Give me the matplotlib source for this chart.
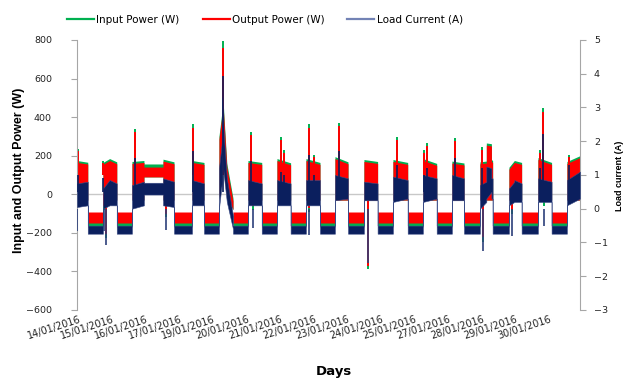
import numpy as np
import matplotlib
matplotlib.use("Agg")
import matplotlib.pyplot as plt
from matplotlib.lines import Line2D

# ---------------- data (time in hours from start of record) ----------------
tick_labels = ["14/01/2016", "15/01/2016", "16/01/2016", "17/01/2016", "19/01/2016",
               "20/01/2016", "21/01/2016", "22/01/2016", "23/01/2016", "24/01/2016",
               "25/01/2016", "27/01/2016", "28/01/2016", "29/01/2016", "30/01/2016"]

# daytime operating blocks: on/off time and band envelopes (start -> end)
blk_on    = [0.0, 21.5, 27.0, 45.5, 55.4, 71.2, 95.2, 117.5, 120.0, 121.5, 124.0, 141.5, 165.5,
             189.5, 213.5, 237.5, 261.5, 286.3, 310.3, 333.5, 338.8, 343.0, 357.5, 362.0, 381.5, 405.5]
blk_off   = [8.9, 27.0, 32.9, 55.4, 71.2, 80.3, 105.1, 120.0, 121.5, 124.0, 129.1, 152.9, 176.8,
             201.1, 224.3, 248.8, 273.7, 297.7, 320.3, 338.8, 343.0, 344.0, 362.0, 368.0, 392.8, 416.3]
in_top_s  = [175, 165, 185, 170, 157, 182, 175, 300, 600, 420, 160, 175, 185,
             185, 195, 180, 180, 185, 172, 168, 266, 180, 140, 175, 190, 170]
in_top_e  = [166, 185, 168, 175, 157, 168, 165, 430, 420, 160, -20, 165, 163,
             165, 168, 170, 165, 160, 162, 172, 262, 175, 175, 165, 165, 200]
out_top_s = [165, 155, 175, 160, 141, 172, 165, 285, 570, 400, 140, 165, 175,
             175, 185, 170, 170, 175, 162, 158, 255, 170, 130, 165, 180, 160]
out_top_e = [157, 175, 158, 165, 141, 158, 155, 410, 400, 140, -35, 155, 153,
             155, 158, 160, 155, 150, 152, 162, 250, 165, 165, 155, 155, 190]
pow_lo_s  = [-30, -30, -30, -30, 90, -30, -30, -30, 180, 110, -10, -30, -30,
             -30, -30, -30, -30, -30, -30, -30, -30, -30, -30, -30, -30, -30]
pow_lo_e  = [-30, -30, -30, -30, 90, -30, -30, 150, 110, -10, -80, -30, -30,
             -30, -30, -30, -30, -30, -30, -30, -30, -30, -30, -30, -30, -30]
cur_lo_s  = [0.05, 0.00, 0.10, 0.00, 0.42, 0.10, 0.10, 0.00, 1.60, 1.00, 0.20, 0.10, 0.10,
             0.10, 0.25, 0.25, 0.20, 0.20, 0.25, 0.00, 0.30, 0.30, 0.10, 0.20, 0.20, 0.10]
cur_lo_e  = [0.10, 0.10, 0.10, 0.10, 0.42, 0.05, 0.10, 0.80, 1.00, 0.20, -0.60, 0.10, 0.10,
             0.10, 0.30, 0.25, 0.30, 0.30, 0.25, 0.20, 0.50, 0.30, 0.20, 0.20, 0.20, 0.30]
cur_hi_s  = [0.75, 0.60, 0.85, 0.70, 0.77, 0.90, 0.85, 1.20, 3.30, 2.20, 0.90, 0.85, 0.85,
             0.85, 1.00, 0.80, 0.95, 1.00, 1.00, 0.70, 1.25, 0.90, 0.60, 0.85, 0.90, 0.85]
cur_hi_e  = [0.80, 0.85, 0.75, 0.80, 0.77, 0.80, 0.75, 2.00, 2.20, 0.90, -0.20, 0.75, 0.75,
             0.85, 0.90, 0.75, 0.85, 0.90, 0.90, 0.80, 1.20, 0.90, 0.80, 0.75, 0.80, 1.10]

# night-time bands (low, high)
night_in  = (-170, -110)
night_out = (-149, -92)
night_cur = (-0.74, -0.50)

# short upward spikes: time, input W, output W, current A
up_t   = [0.8, 21.7, 48.0, 96.0, 120.6, 144.0, 168.6, 171.7, 192.0, 196.0, 216.8, 264.8,
          286.8, 289.7, 312.8, 334.9, 383.2, 385.4, 407.2]
up_in  = [235, 172, 340, 364, 797, 325, 298, 228, 364, 205, 372, 297,
          230, 265, 294, 245, 230, 447, 203]
up_out = [222, 160, 322, 345, 758, 305, 280, 212, 345, 195, 352, 280,
          215, 248, 276, 230, 215, 425, 195]
up_cur = [1.0, 0.9, 1.5, 1.7, 3.94, 1.4, 1.1, 1.0, 1.6, 1.0, 1.7, 1.3,
          1.0, 1.2, 1.5, 1.2, 1.2, 2.2, 1.3]

# short downward spikes: time, input W, output W, current A
dn_t   = [0.4, 22.0, 24.0, 73.5, 146.0, 192.3, 240.6, 336.0, 360.0, 386.5]
dn_in  = [-140, -80, -227, -120, -80, -90, -390, -245, -100, -60]
dn_out = [-120, -60, -205, -100, -60, -70, -370, -220, -80, -40]
dn_cur = [-0.65, -0.65, -1.07, -0.63, -0.57, -0.77, -1.6, -1.25, -0.82, -0.5]

# ---------------- build envelopes ----------------
t, in_lo, in_hi, out_lo, out_hi, c_lo, c_hi = [], [], [], [], [], [], []


def add(tt, a, b, c, d, e, f):
    t.append(tt); in_lo.append(a); in_hi.append(b); out_lo.append(c)
    out_hi.append(d); c_lo.append(e); c_hi.append(f)


prev = None
for i in range(len(blk_on)):
    if prev is not None and blk_on[i] > prev:
        add(prev, night_in[0], night_in[1], night_out[0], night_out[1], night_cur[0], night_cur[1])
        add(blk_on[i], night_in[0], night_in[1], night_out[0], night_out[1], night_cur[0], night_cur[1])
    add(blk_on[i], pow_lo_s[i], in_top_s[i], pow_lo_s[i], out_top_s[i], cur_lo_s[i], cur_hi_s[i])
    add(blk_off[i], pow_lo_e[i], in_top_e[i], pow_lo_e[i], out_top_e[i], cur_lo_e[i], cur_hi_e[i])
    prev = blk_off[i]

GREEN = "#00b050"
RED = "#ff0000"
NAVY = "#0b1f5e"
LEG_BLUE = "#7383b5"
GRAY = "#a6a6a6"

fig = plt.figure(figsize=(6.27, 3.81), dpi=100)
ax = fig.add_axes([0.1228, 0.1864, 0.8022, 0.7087])
ax2 = ax.twinx()

ax.axhline(0, color="#c8c8c8", lw=1.0, zorder=0)
ax.fill_between(t, in_lo, in_hi, color=GREEN, lw=0, zorder=1)
ax.vlines(up_t, 100, up_in, color=GREEN, lw=1.4, zorder=1)
ax.vlines(dn_t, 0, dn_in, color=GREEN, lw=1.4, zorder=1)
ax.fill_between(t, out_lo, out_hi, color=RED, lw=0, zorder=2)
ax.vlines(up_t, 100, up_out, color=RED, lw=1.4, zorder=2)
ax.vlines(dn_t, 0, dn_out, color=RED, lw=1.4, zorder=2)

ax2.fill_between(t, c_lo, c_hi, color=NAVY, lw=0.4, edgecolor="#3a4c86", zorder=3)
ax2.vlines(up_t, 0.5, up_cur, color=NAVY, lw=1.2, zorder=3)
ax2.vlines(dn_t, 0.0, dn_cur, color="#2c3f7a", lw=1.2, zorder=3)

ax.set_xlim(0, 416.3)
ax.set_ylim(-600, 800)
ax2.set_ylim(-3, 5)
ax.set_yticks(np.arange(-600, 801, 200))
ax2.set_yticks(np.arange(-3, 6, 1))

tick_pos = 1.66 + 27.81 * np.arange(len(tick_labels))
ax.set_xticks(tick_pos)
ax.set_xticklabels(tick_labels, rotation=18, ha="right", va="top",
                   rotation_mode="anchor", fontsize=7, color="#222222")
ax.tick_params(axis="x", length=0, pad=3)
ax.tick_params(axis="y", direction="out", length=4, color=GRAY, pad=14,
               labelsize=6.8, labelcolor="#222222")
ax2.tick_params(axis="y", direction="out", length=4, color=GRAY, pad=6,
                labelsize=6.8, labelcolor="#222222")

for a in (ax, ax2):
    a.spines["top"].set_visible(False)
    a.spines["bottom"].set_visible(False)
    a.spines["left"].set_color(GRAY)
    a.spines["right"].set_color(GRAY)
ax2.spines["left"].set_visible(False)
ax.spines["right"].set_visible(False)

narrow = ["Liberation Sans", "DejaVu Sans"]
fig.text(19 / 627, 1 - 170 / 381, "Input and Output Power (W)", rotation=90,
         ha="center", va="center", fontsize=9, fontweight="bold", family=narrow)
fig.text(619 / 627, 1 - 176 / 381, "Load current (A)", rotation=90,
         ha="center", va="center", fontsize=6.5, fontweight="bold", family=narrow)
fig.text(334 / 627, 1 - 372 / 381, "Days", ha="center", va="center",
         fontsize=9.5, fontweight="bold")

handles = [Line2D([], [], color=GREEN, lw=1.6),
           Line2D([], [], color=RED, lw=1.6),
           Line2D([], [], color=LEG_BLUE, lw=1.6)]
fig.legend(handles, ["Input Power (W)", "Output Power (W)", "Load Current (A)"],
           loc="center", bbox_to_anchor=(265 / 627, 1 - 20 / 381), ncol=3,
           frameon=False, fontsize=7.5, handlelength=2.6, handletextpad=0.2,
           columnspacing=2.2)

fig.savefig("out.png", dpi=100)
